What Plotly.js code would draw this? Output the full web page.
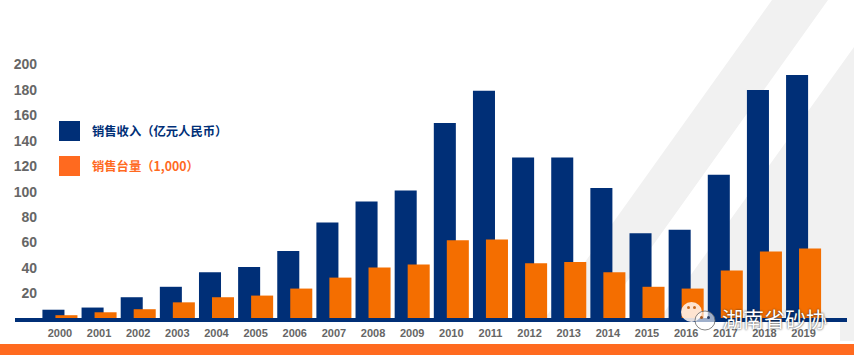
<!DOCTYPE html>
<html><head><meta charset="utf-8">
<script src="https://cdn.plot.ly/plotly-3.0.1.min.js"></script>
<style>html,body{margin:0;padding:0;background:#fff;overflow:hidden}</style></head>
<body><div id="chart" style="width:854px;height:355px"></div>
<script>
const years=[2000,2001,2002,2003,2004,2005,2006,2007,2008,2009,2010,2011,2012,2013,2014,2015,2016,2017,2018,2019];
const revenue=[6.5,8.2,16.3,24.5,36,40,52.5,75,91.5,100,153,178.3,126,126,102,66.6,69.2,112.5,179,190.8];
const units=[2.2,4.5,6.9,12.3,16.3,17.6,23.1,31.7,39.6,42,61,61.7,43,44,36,24.5,23.1,37.2,52.2,54.5];
const yTicks=[20,40,60,80,100,120,140,160,180,200];
const revenueName='销售收入（亿元人民币）';
const unitsName='销售台量（1,000）';
const watermark='湖南省砂协';

const W=854,H=355,mL=38,mR=7,mT=0,mB=37;
const px=x=>(x-mL)/(W-mL-mR), py=y=>(H-mB-y)/(H-mT-mB);
const poly=(pts,fill,layer)=>({type:'path',xref:'paper',yref:'paper',layer:layer||'below',line:{width:0},fillcolor:fill,
  path:'M'+pts.map(p=>px(p[0])+' '+py(p[1])).join('L')+'Z'});
const rect=(x0,y0,x1,y1,fill,layer)=>({type:'rect',xref:'paper',yref:'paper',layer:layer||'below',line:{width:0},fillcolor:fill,
  x0:px(x0),x1:px(x1),y0:py(y1),y1:py(y0)});
const circ=(x0,y0,x1,y1,fill,lc,lw)=>({type:'circle',xref:'paper',yref:'paper',layer:'above',line:{width:lw||0,color:lc||fill},fillcolor:fill,
  x0:px(x0),x1:px(x1),y0:py(y1),y1:py(y0)});
const grey='#F1F1F1',navy='#002F77',barOrange='#F46E00',keyOrange='#FF6A1F';

const shapes=[
  poly([[772,0],[828,0],[601,318],[601,322],[545,322],[545,318]],grey),
  poly([[854,47],[854,344],[640,344],[660,318]],grey),
  rect(0,322,840,341,'#FFFFFF'),
  rect(0,341,854,344,'#FFFFFF'),
  rect(15,318,847,322,navy),
  rect(0,344,854,355,keyOrange),
  rect(59,121,80,141,navy,'above'),
  rect(59,156,80,176,keyOrange,'above'),
  circ(681,302,702,322,'rgba(255,245,238,0.88)'),
  circ(687,306,690,309,'#C9691F'),
  circ(693,306,696,309,'#C9691F'),
  circ(695,311,715,330,'rgba(255,255,255,0.62)','#666',0.8),
  circ(700,316,703,319,'#A85A20'),
  circ(707,316,710,319,'#2A3F66')
];
const note=(x,y,text,size,color,extra)=>Object.assign({xref:'paper',yref:'paper',x:px(x),y:py(y),xanchor:'left',yanchor:'middle',
  showarrow:false,text:text,font:{family:'"Noto Sans CJK SC",sans-serif',size:size,color:color}},extra||{});

Plotly.newPlot('chart',[
  {type:'bar',name:revenueName,x:years,y:revenue,width:0.563,offset:-0.447,marker:{color:navy,line:{width:0}}},
  {type:'bar',name:unitsName,x:years,y:units,width:0.563,offset:-0.115,marker:{color:barOrange,line:{width:0}}}
],{
  width:W,height:H,margin:{l:mL,r:mR,t:mT,b:mB,pad:0},
  paper_bgcolor:'#FFFFFF',plot_bgcolor:'rgba(0,0,0,0)',showlegend:false,barmode:'overlay',
  xaxis:{type:'linear',range:[1999.44,2020.11],tickvals:years,ticktext:years.map(String),ticks:'',showgrid:false,zeroline:false,showline:false,
    ticklabelstandoff:7,tickfont:{family:'"Liberation Sans",Arial,sans-serif',size:11,color:'#666666',weight:'bold'}},
  yaxis:{range:[0,249.6],tickvals:yTicks,ticks:'',showgrid:false,zeroline:false,showline:false,
    ticklabelshift:1,tickfont:{family:'"Liberation Sans",Arial,sans-serif',size:14,color:'#666666',weight:'bold'}},
  shapes:shapes,
  annotations:[
    note(90,131,'<b>'+revenueName+'</b>',12.3,navy),
    note(90,166,'<b>'+unitsName+'</b>',12.3,keyOrange),
    note(720,318,watermark,21,'#FFFFFF',{font:{family:'"Noto Sans CJK SC",sans-serif',size:21,color:'#FFFFFF',shadow:'0 0 2px #222'}})
  ]
},{displayModeBar:false,staticPlot:true});
</script></body></html>
